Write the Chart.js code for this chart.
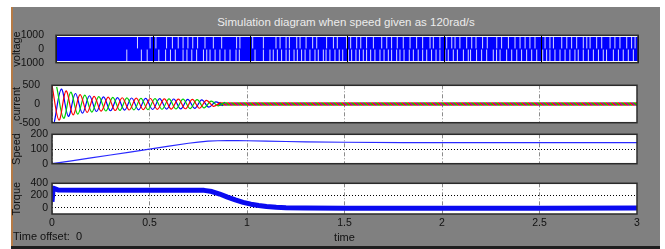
<!DOCTYPE html>
<html lang="en">
<head>
<meta charset="UTF-8">
<title>Simulation diagram when speed given as 120rad/s</title>
<script src="https://cdn.jsdelivr.net/npm/chart.js"></script>
<style>
  body { margin: 0; background: #fff; width: 665px; height: 249px; position: relative; overflow: hidden; font-family: "Liberation Sans", Arial, sans-serif; }
  #scope { position: absolute; left: 11px; top: 7px; width: 647px; height: 239px; background: #808080; border-left: 2px solid #b57a45; }
  #foot { position: absolute; left: 11px; top: 246px; width: 649px; height: 3px; background: #1e1e1e; }
  #title { position: absolute; left: 346px; top: 15px; transform: translateX(-50%); white-space: nowrap; color: #ececec; font-size: 11.5px; line-height: 14px; }
  #offset { position: absolute; left: 13px; top: 230px; white-space: pre; color: #111; font-size: 11px; line-height: 13px; }
  canvas { position: absolute; left: 0; }
</style>
</head>
<body>
<div id="scope"></div>
<div id="foot"></div>
<div id="title">Simulation diagram when speed given as 120rad/s</div>
<canvas id="cv-voltage" width="665" height="48" style="top:25px"></canvas>
<canvas id="cv-current" width="665" height="58" style="top:75px"></canvas>
<canvas id="cv-speed" width="665" height="50" style="top:124px"></canvas>
<canvas id="cv-torque" width="665" height="72" style="top:173px"></canvas>
<div id="offset">Time offset:  0</div>

<script>
// tick labels
const timeTicks = [0, 0.5, 1, 1.5, 2, 2.5, 3];
const voltageTicks = [-1000, 0, 1000];
const currentTicks = [-500, 0, 500];
const speedTicks = [0, 100, 200];
const torqueTicks = [0, 200, 400];

// voltage: switching band, plus the times where the band shows white gaps
const voltageEnvelope = [880, -880];
const voltageGapLevels = [480, -480];
const voltageUpperGaps = [0.42, 0.485, 0.515, 0.57, 0.60, 0.63, 0.655, 0.68, 0.705, 0.73, 0.768, 0.811, 0.854, 0.931, 0.948,
  1.014, 1.069, 1.134, 1.155, 1.186, 1.203, 1.241, 1.258, 1.289, 1.323, 1.344, 1.395, 1.43, 1.45, 1.498, 1.519, 1.55, 1.571,
  1.601, 1.636, 1.679, 1.705, 1.73, 1.759, 1.79, 1.825, 1.859, 1.89, 1.928, 1.945, 1.979, 2.014, 2.04, 2.057, 2.082, 2.117,
  2.143, 2.165, 2.199, 2.223, 2.272, 2.297, 2.332, 2.366, 2.392, 2.418, 2.443, 2.469, 2.521, 2.546, 2.564, 2.607, 2.633,
  2.658, 2.684, 2.718, 2.736, 2.753, 2.787, 2.813, 2.856, 2.881, 2.907, 2.942, 2.967, 2.985];
const voltageLowerGaps = [0.365, 0.44, 0.47, 0.53, 0.565, 0.59, 0.615, 0.655, 0.675, 0.70, 0.725, 0.76, 0.777, 0.794, 0.82,
  0.845, 0.871, 0.897, 0.928, 0.945, 1.026, 1.069, 1.103, 1.12, 1.141, 1.163, 1.186, 1.203, 1.227, 1.244, 1.266, 1.284,
  1.309, 1.335, 1.352, 1.378, 1.392, 1.412, 1.438, 1.46, 1.478, 1.507, 1.524, 1.546, 1.564, 1.584, 1.601, 1.622, 1.644,
  1.67, 1.691, 1.713, 1.73, 1.756, 1.773, 1.794, 1.821, 1.842, 1.867, 1.89, 1.911, 1.936, 1.959, 1.979, 2.005, 2.022,
  2.048, 2.069, 2.1, 2.125, 2.137, 2.168, 2.194, 2.22, 2.254, 2.271, 2.289, 2.323, 2.349, 2.375, 2.4, 2.426, 2.452, 2.478,
  2.509, 2.529, 2.546, 2.572, 2.598, 2.624, 2.649, 2.675, 2.692, 2.718, 2.744, 2.77, 2.796, 2.821, 2.838, 2.873, 2.899,
  2.924, 2.95, 2.976];

// current: peaks of the three phases during start-up, then a narrow steady band
const currentTimesA = [0, 0.036, 0.072, 0.108, 0.144, 0.18, 0.216, 0.252, 0.288, 0.324, 0.36, 0.396, 0.432, 0.468, 0.504,
  0.54, 0.576, 0.612, 0.648, 0.684, 0.72, 0.756, 0.792, 0.828, 0.864];
const currentA = [500, -430, 350, -290, 250, -225, 205, -192, 182, -174, 167, -161, 156, -151, 147, -143, 139, -135, 131,
  -127, 122, -114, 95, -62, 45];
const currentTimesB = [0.024, 0.06, 0.096, 0.132, 0.168, 0.204, 0.24, 0.276, 0.312, 0.348, 0.384, 0.42, 0.456, 0.492, 0.528,
  0.564, 0.6, 0.636, 0.672, 0.708, 0.744, 0.78, 0.816, 0.852, 0.888];
const currentB = [460, -380, 315, -270, 238, -215, 198, -187, 178, -170, 163, -158, 153, -149, 145, -141, 137, -133, 129,
  -124, 116, -102, 75, -50, 45];
const currentTimesC = [0.012, 0.048, 0.084, 0.12, 0.156, 0.192, 0.228, 0.264, 0.3, 0.336, 0.372, 0.408, 0.444, 0.48, 0.516,
  0.552, 0.588, 0.624, 0.66, 0.696, 0.732, 0.768, 0.804, 0.84, 0.876];
const currentC = [-480, 400, -330, 280, -245, 220, -200, 190, -180, 172, -165, 160, -155, 150, -146, 142, -138, 134, -130,
  125, -118, 108, -85, 55, -45];
const currentBandTimes = [0.85, 3.0];
const currentBandHigh = [45, 45];
const currentBandLow = [-45, -45];

// speed (rad/s)
const speedTimes = [0, 0.1, 0.2, 0.3, 0.4, 0.5, 0.6, 0.7, 0.75, 0.8, 0.85, 0.9, 0.95, 1.0, 1.1, 1.2, 1.3, 1.5, 1.8, 2.2, 2.6, 3.0];
const speedValues = [0, 19, 39, 59, 79, 99, 119, 139, 147, 153, 156, 157, 157, 156, 154, 151, 149, 146, 144, 144, 144, 144];

// torque
const torqueTimes = [0, 0.006, 0.03, 0.2, 0.4, 0.6, 0.75, 0.78, 0.82, 0.86, 0.9, 0.94, 0.98, 1.02, 1.06, 1.1, 1.15, 1.2,
  1.3, 1.5, 2.0, 2.5, 3.0];
const torqueValues = [100, 320, 292, 288, 288, 288, 288, 285, 266, 225, 175, 130, 90, 60, 38, 22, 10, 2, -4, -6, -6, -5, -3];

const xy = (ts, vs) => ts.map((t, i) => ({ x: t, y: vs[i] }));
const tickFont = { family: '"Liberation Sans", Arial, sans-serif', size: 10.5 };
const titleFont = { family: '"Liberation Sans", Arial, sans-serif', size: 11 };

// white plot background and dark frame round each panel
const framePlugin = {
  id: 'frame',
  beforeDraw(chart) {
    const a = chart.chartArea, ctx = chart.ctx;
    ctx.save();
    ctx.fillStyle = '#fff';
    ctx.fillRect(a.left, a.top, a.right - a.left, a.bottom - a.top);
    ctx.restore();
  },
  afterDraw(chart) {
    const a = chart.chartArea, ctx = chart.ctx;
    ctx.save();
    ctx.strokeStyle = '#2b2b2b';
    ctx.lineWidth = 1.5;
    ctx.strokeRect(a.left, a.top, a.right - a.left, a.bottom - a.top);
    ctx.restore();
  }
};

function xAxis(showLabels, color, dash, z) {
  return {
    type: 'linear', min: 0, max: 3,
    afterBuildTicks: s => { s.ticks = timeTicks.map(v => ({ value: v })); },
    afterFit: s => { s.height = showLabels ? 31 : 0; },
    ticks: { display: showLabels, padding: 3, color: '#111', font: tickFont, maxRotation: 0, autoSkip: false, callback: v => String(v) },
    grid: { color: color, lineWidth: 1, drawTicks: false, z: z },
    border: { display: false, dash: dash },
    title: { display: showLabels, text: 'time', color: '#111', font: titleFont, padding: 0 }
  };
}

function yAxis(ticksList, min, max, width, title, showGrid) {
  return {
    min: min, max: max,
    afterBuildTicks: s => { s.ticks = ticksList.map(v => ({ value: v })); },
    afterFit: s => { s.width = width; },
    ticks: { padding: 4, color: '#111', font: tickFont, autoSkip: false, callback: v => String(v) },
    grid: showGrid ? { color: '#000', lineWidth: 1, drawTicks: false } : { display: false },
    border: { display: false, dash: [1, 2] },
    title: { display: true, text: title, color: '#111', font: titleFont, padding: 0 }
  };
}

function makeChart(id, padding, datasets, scales) {
  return new Chart(document.getElementById(id), {
    type: 'line',
    data: { datasets: datasets },
    options: {
      responsive: false,
      animation: false,
      events: [],
      layout: { padding: padding },
      elements: { point: { radius: 0 }, line: { borderJoinStyle: 'round' } },
      plugins: { legend: { display: false }, tooltip: { enabled: false } },
      scales: scales
    },
    plugins: [framePlugin]
  });
}

// mixed red/green/blue texture for the overlapping steady-state phase currents
function phaseMix() {
  const c = document.createElement('canvas');
  c.width = 6; c.height = 6;
  const g = c.getContext('2d');
  g.fillStyle = '#ff1010';
  g.fillRect(0, 0, 6, 6);
  for (let i = 0; i < 6; i++) {
    g.fillStyle = '#10c010';
    g.fillRect(i, i, 1, 1);
    g.fillRect((i + 1) % 6, i, 1, 1);
    g.fillStyle = '#3030ff';
    g.fillRect((i + 4) % 6, i, 1, 1);
  }
  return g.createPattern(c, 'repeat');
}

const gridGray = '#8c8c8c';
const dashDot = [4, 2, 1, 2];
const tEnd = timeTicks[timeTicks.length - 1];

// Voltage (datasets listed first are drawn on top)
makeChart('cv-voltage', { left: 10, right: 27, top: 8, bottom: 8 }, [
  {
    data: voltageUpperGaps.map(t => ({ x: t, y: voltageGapLevels[0] })),
    showLine: false, pointStyle: 'line', pointRotation: 90, pointRadius: 6,
    pointBorderColor: 'rgba(255,255,255,0.85)', pointBorderWidth: 1, clip: 0
  },
  {
    data: voltageLowerGaps.map(t => ({ x: t, y: voltageGapLevels[1] })),
    showLine: false, pointStyle: 'line', pointRotation: 90, pointRadius: 6,
    pointBorderColor: 'rgba(255,255,255,0.85)', pointBorderWidth: 1, clip: 0
  },
  {
    data: [{ x: timeTicks[0], y: voltageEnvelope[0] }, { x: tEnd, y: voltageEnvelope[0] }],
    fill: { value: voltageEnvelope[1] }, backgroundColor: '#0000ff', borderColor: '#0000ff', borderWidth: 0, clip: 0
  }
], {
  x: xAxis(false, '#000', [], 1),
  y: yAxis(voltageTicks, -1000, 1000, 46, 'voltage', false)
});

// Current
makeChart('cv-current', { left: 10, right: 28, top: 8, bottom: 8 }, [
  { data: xy(currentTimesA, currentA), borderColor: '#ff0000', borderWidth: 1.2, tension: 0.35, clip: 0 },
  { data: xy(currentTimesB, currentB), borderColor: '#00d000', borderWidth: 1.2, tension: 0.35, clip: 0 },
  { data: xy(currentTimesC, currentC), borderColor: '#0000ff', borderWidth: 1.2, tension: 0.35, clip: 0 },
  { data: xy(currentBandTimes, currentBandHigh), fill: '+1', backgroundColor: phaseMix(), borderWidth: 0, clip: 0 },
  { data: xy(currentBandTimes, currentBandLow), borderWidth: 0, clip: 0 }
], {
  x: xAxis(false, gridGray, dashDot, -1),
  y: yAxis(currentTicks, -500, 500, 42, 'current', false)
});

// Speed
makeChart('cv-speed', { left: 10, right: 28, top: 8, bottom: 8 }, [
  { data: xy(speedTimes, speedValues), borderColor: '#2a2aff', borderWidth: 1.2, clip: 0 }
], {
  x: xAxis(false, gridGray, dashDot, -1),
  y: yAxis(speedTicks, 0, 200, 42, 'Speed', true)
});

// Torque
makeChart('cv-torque', { left: 10, right: 28, top: 8, bottom: 0 }, [
  { data: xy(torqueTimes, torqueValues), borderColor: '#0a0af0', borderWidth: 5, clip: 0 }
], {
  x: xAxis(true, gridGray, dashDot, -1),
  y: yAxis(torqueTicks, -100, 400, 42, 'Torque', true)
});
</script>
</body>
</html>
